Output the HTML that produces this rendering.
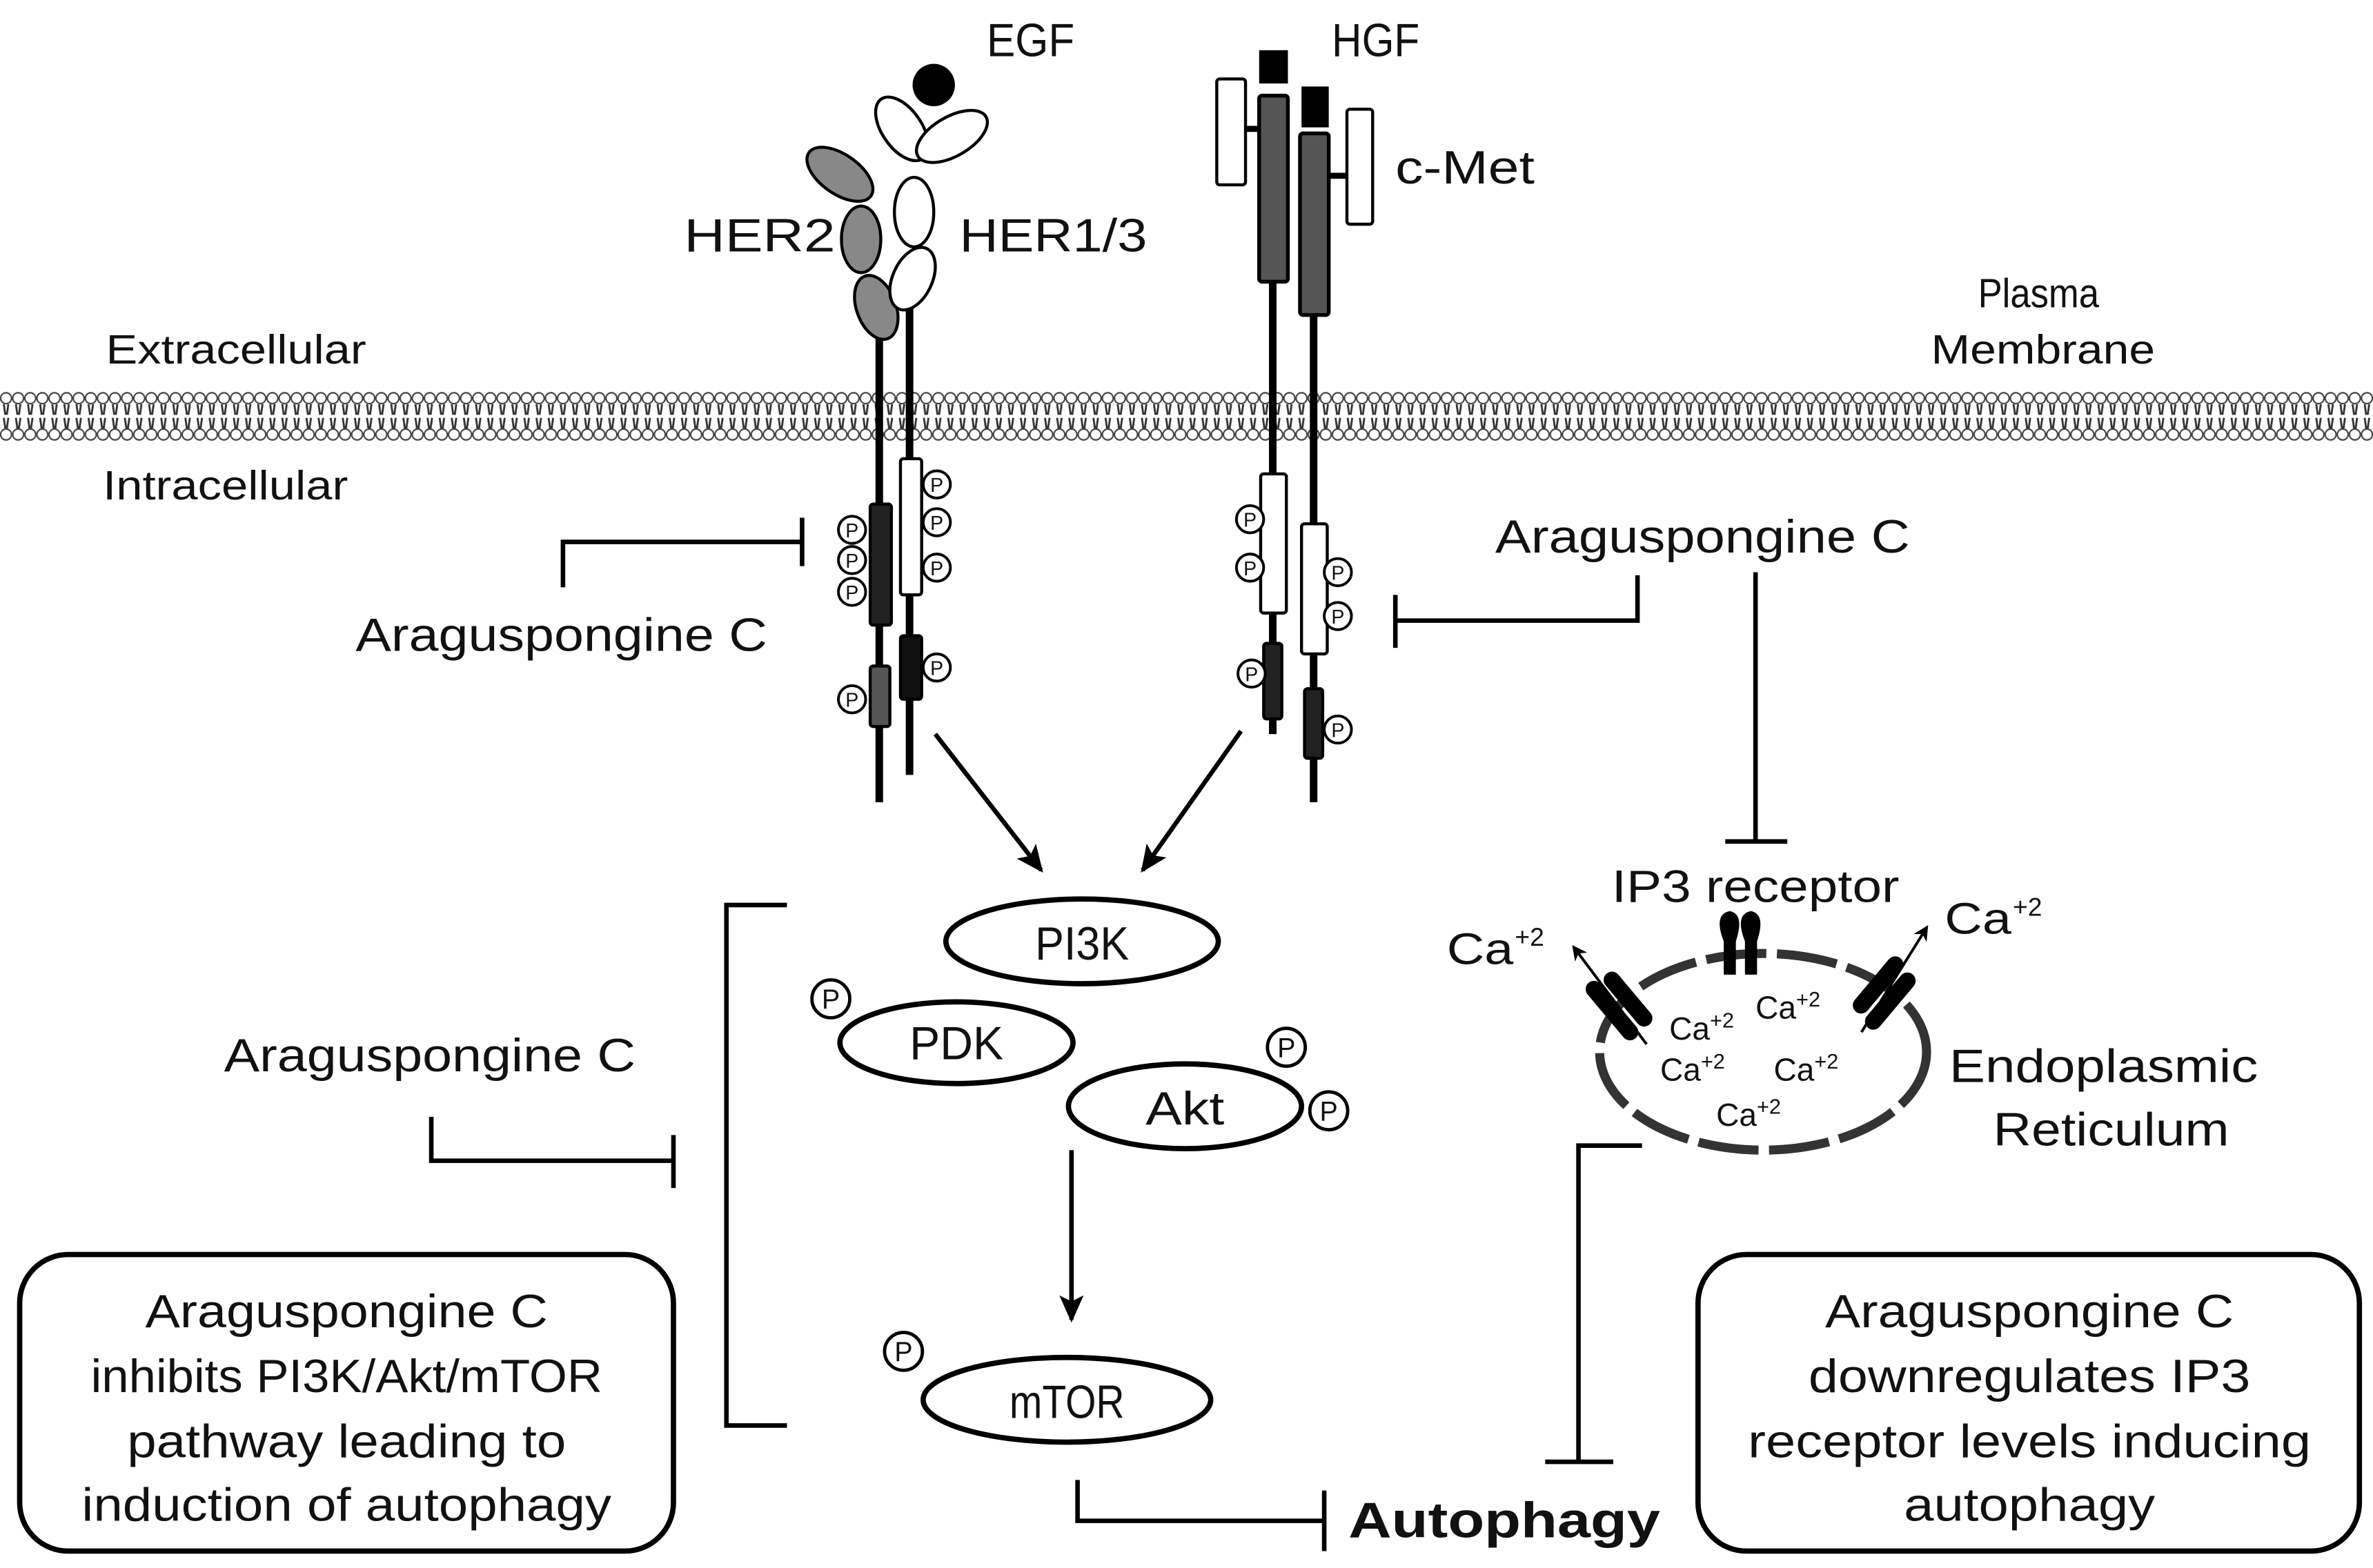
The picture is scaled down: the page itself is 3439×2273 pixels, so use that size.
<!DOCTYPE html>
<html><head><meta charset="utf-8"><style>
html,body{margin:0;padding:0;background:#fff;}
svg{display:block;}
text{font-family:"Liberation Sans",Arial,sans-serif;fill:#111;}
</style></head><body>
<svg width="3439" height="2273" viewBox="0 0 1568 1036" xmlns="http://www.w3.org/2000/svg">
<defs>
<marker id="ar" markerWidth="10" markerHeight="10" refX="8" refY="5" orient="auto" markerUnits="userSpaceOnUse"><path d="M0,0 L10,5 L0,10 L3,5 Z" fill="#000"/></marker>
<marker id="ar2" markerWidth="18" markerHeight="16" refX="16" refY="8" orient="auto" markerUnits="userSpaceOnUse"><path d="M0,0 L18,8 L0,16 L4,8 Z" fill="#000"/></marker>
<g id="P"><circle r="9" fill="#fff" stroke="#000" stroke-width="1.8"/><text x="0" y="5" font-size="13" text-anchor="middle">P</text></g>
<g id="Pb"><circle r="12.5" fill="#fff" stroke="#000" stroke-width="2.2"/><text x="0" y="6.5" font-size="18" text-anchor="middle">P</text></g>
<pattern id="heads" x="0" y="0" width="8" height="34" patternUnits="userSpaceOnUse" patternTransform="translate(0,258)">
<circle cx="4" cy="5" r="3.6" fill="#fff" stroke="#444" stroke-width="1"/>
<circle cx="4" cy="29" r="3.6" fill="#fff" stroke="#444" stroke-width="1"/>
<path d="M2.5,9 L3.5,16 M5.5,9 L4.5,16 M2.5,18 L3.5,25 M5.5,18 L4.5,25" stroke="#333" stroke-width="1.3"/>
</pattern>
</defs>

<rect x="0" y="258" width="1568" height="34" fill="url(#heads)"/>

<!-- labels top -->
<text x="652" y="37" font-size="31" textLength="58" lengthAdjust="spacingAndGlyphs">EGF</text>
<text x="880" y="37" font-size="31" textLength="58" lengthAdjust="spacingAndGlyphs">HGF</text>
<text x="922" y="121" font-size="31" textLength="92" lengthAdjust="spacingAndGlyphs">c-Met</text>
<text x="452" y="166" font-size="31" textLength="100" lengthAdjust="spacingAndGlyphs">HER2</text>
<text x="634" y="166" font-size="31" textLength="124" lengthAdjust="spacingAndGlyphs">HER1/3</text>
<text x="70" y="240" font-size="27" textLength="172" lengthAdjust="spacingAndGlyphs">Extracellular</text>
<text x="68" y="330" font-size="27" textLength="162" lengthAdjust="spacingAndGlyphs">Intracellular</text>
<text x="1347" y="203" font-size="27" text-anchor="middle" textLength="80" lengthAdjust="spacingAndGlyphs">Plasma</text>
<text x="1350" y="240" font-size="27" text-anchor="middle" textLength="148" lengthAdjust="spacingAndGlyphs">Membrane</text>

<!-- HER2 -->
<line x1="581" y1="215" x2="581" y2="530" stroke="#000" stroke-width="5"/>
<g fill="#888" stroke="#000" stroke-width="2">
<ellipse cx="555" cy="115" rx="25" ry="13" transform="rotate(35 555 115)"/>
<ellipse cx="569" cy="158" rx="13" ry="22"/>
<ellipse cx="579" cy="203" rx="13" ry="22" transform="rotate(-20 579 203)"/>
</g>
<rect x="575" y="333" width="14" height="80" rx="2" fill="#222" stroke="#000" stroke-width="2"/>
<rect x="575" y="440" width="13" height="40" rx="2" fill="#555" stroke="#000" stroke-width="2"/>
<use href="#P" x="563" y="350"/><use href="#P" x="563" y="370"/><use href="#P" x="563" y="391"/><use href="#P" x="563" y="462"/>

<!-- HER1/3 -->
<line x1="601" y1="200" x2="601" y2="512" stroke="#000" stroke-width="5"/>
<g fill="#fff" stroke="#000" stroke-width="2">
<ellipse cx="596" cy="85" rx="24" ry="13" transform="rotate(55 596 85)"/>
<ellipse cx="629" cy="90" rx="26" ry="13" transform="rotate(-30 629 90)"/>
<ellipse cx="604" cy="140" rx="13" ry="23"/>
<ellipse cx="603" cy="184" rx="13" ry="22" transform="rotate(25 603 184)"/>
</g>
<circle cx="617" cy="56" r="14" fill="#000"/>
<rect x="595" y="303" width="14" height="90" rx="2" fill="#fff" stroke="#000" stroke-width="2"/>
<rect x="595" y="420" width="14" height="42" rx="2" fill="#111" stroke="#000" stroke-width="2"/>
<use href="#P" x="619" y="320"/><use href="#P" x="619" y="345"/><use href="#P" x="619" y="375"/><use href="#P" x="619" y="441"/>

<!-- c-Met left -->
<line x1="841" y1="180" x2="841" y2="485" stroke="#000" stroke-width="5"/>
<rect x="832" y="33" width="19" height="22" fill="#000"/>
<rect x="822" y="83" width="12" height="4" fill="#000"/>
<rect x="804" y="52" width="19" height="70" rx="2" fill="#fff" stroke="#000" stroke-width="2"/>
<rect x="832" y="63" width="19" height="123" rx="2" fill="#555" stroke="#000" stroke-width="2.5"/>
<rect x="833" y="313" width="17" height="92" rx="2" fill="#fff" stroke="#000" stroke-width="2"/>
<rect x="835" y="425" width="12" height="50" rx="2" fill="#222" stroke="#000" stroke-width="2"/>
<use href="#P" x="826" y="343"/><use href="#P" x="826" y="375"/><use href="#P" x="827" y="445"/>

<!-- c-Met right -->
<line x1="868" y1="200" x2="868" y2="530" stroke="#000" stroke-width="5"/>
<rect x="860" y="57" width="18" height="27" fill="#000"/>
<rect x="877" y="114" width="14" height="4" fill="#000"/>
<rect x="890" y="72" width="17" height="76" rx="2" fill="#fff" stroke="#000" stroke-width="2"/>
<rect x="859" y="88" width="19" height="120" rx="2" fill="#555" stroke="#000" stroke-width="2.5"/>
<rect x="860" y="346" width="17" height="86" rx="2" fill="#fff" stroke="#000" stroke-width="2"/>
<rect x="862" y="455" width="12" height="46" rx="2" fill="#222" stroke="#000" stroke-width="2"/>
<use href="#P" x="884" y="378"/><use href="#P" x="884" y="407"/><use href="#P" x="884" y="482"/>

<!-- arrows to PI3K -->
<line x1="618" y1="485" x2="688" y2="575" stroke="#000" stroke-width="3" marker-end="url(#ar2)"/>
<line x1="820" y1="483" x2="755" y2="575" stroke="#000" stroke-width="3" marker-end="url(#ar2)"/>

<!-- left receptor inhibitor -->
<path d="M372,388 L372,358 L530,358" fill="none" stroke="#000" stroke-width="3"/>
<line x1="530" y1="342" x2="530" y2="374" stroke="#000" stroke-width="3"/>
<text x="371" y="430" font-size="31" text-anchor="middle" textLength="272" lengthAdjust="spacingAndGlyphs">Araguspongine C</text>

<!-- right inhibitors -->
<text x="1125" y="365" font-size="31" text-anchor="middle" textLength="274" lengthAdjust="spacingAndGlyphs">Araguspongine C</text>
<path d="M1082,380 L1082,410 L922,410" fill="none" stroke="#000" stroke-width="3"/>
<line x1="922" y1="393" x2="922" y2="428" stroke="#000" stroke-width="3"/>
<line x1="1160" y1="378" x2="1160" y2="556" stroke="#000" stroke-width="3"/>
<line x1="1140" y1="556" x2="1181" y2="556" stroke="#000" stroke-width="3"/>

<!-- pathway -->
<ellipse cx="715" cy="622" rx="90" ry="28" fill="#fff" stroke="#000" stroke-width="3.5"/>
<text x="715" y="634" font-size="31" text-anchor="middle" textLength="62" lengthAdjust="spacingAndGlyphs">PI3K</text>
<ellipse cx="632" cy="689" rx="77" ry="27" fill="#fff" stroke="#000" stroke-width="3.5"/>
<text x="632" y="700" font-size="31" text-anchor="middle" textLength="62" lengthAdjust="spacingAndGlyphs">PDK</text>
<use href="#Pb" x="549" y="660"/>
<ellipse cx="783" cy="731" rx="77" ry="28" fill="#fff" stroke="#000" stroke-width="3.5"/>
<text x="783" y="743" font-size="31" text-anchor="middle" textLength="52" lengthAdjust="spacingAndGlyphs">Akt</text>
<use href="#Pb" x="850" y="692"/><use href="#Pb" x="878" y="734"/>
<line x1="708" y1="760" x2="708" y2="872" stroke="#000" stroke-width="3" marker-end="url(#ar2)"/>
<ellipse cx="705" cy="925" rx="95" ry="28" fill="#fff" stroke="#000" stroke-width="3.5"/>
<text x="705" y="937" font-size="31" text-anchor="middle" textLength="76" lengthAdjust="spacingAndGlyphs">mTOR</text>
<use href="#Pb" x="597" y="893"/>

<!-- bracket -->
<path d="M520,598 L480,598 L480,942 L520,942" fill="none" stroke="#000" stroke-width="3"/>
<text x="284" y="708" font-size="31" text-anchor="middle" textLength="272" lengthAdjust="spacingAndGlyphs">Araguspongine C</text>
<path d="M285,738 L285,767 L445,767" fill="none" stroke="#000" stroke-width="3"/>
<line x1="445" y1="750" x2="445" y2="785" stroke="#000" stroke-width="3"/>

<!-- autophagy -->
<path d="M712,978 L712,1005 L875,1005" fill="none" stroke="#000" stroke-width="3"/>
<line x1="875" y1="985" x2="875" y2="1025" stroke="#000" stroke-width="3"/>
<text x="994" y="1016" font-size="33" font-weight="bold" text-anchor="middle" textLength="206" lengthAdjust="spacingAndGlyphs">Autophagy</text>
<path d="M1085,757 L1043,757 L1043,966" fill="none" stroke="#000" stroke-width="3"/>
<line x1="1021" y1="966" x2="1066" y2="966" stroke="#000" stroke-width="3"/>

<!-- ER -->
<ellipse cx="1165" cy="695" rx="108" ry="65" fill="none" stroke="#333" stroke-width="6" stroke-dasharray="40 7"/>
<g fill="#000">
<path d="M1139,622 q-7,-18 4,-20 q10,2 4,20 l0,22 l-8,0 z"/>
<path d="M1153,622 q-7,-18 4,-20 q10,2 4,20 l0,22 l-8,0 z"/>
<g transform="rotate(-40 1070 665)"><rect x="1059" y="640" width="11" height="48" rx="5.5"/><rect x="1072" y="643" width="11" height="44" rx="5.5"/></g>
<g transform="rotate(40 1246 655)"><rect x="1234" y="632" width="11" height="46" rx="5.5"/><rect x="1247" y="635" width="11" height="46" rx="5.5"/></g>
</g>
<line x1="1088" y1="690" x2="1040" y2="626" stroke="#000" stroke-width="1.8" marker-end="url(#ar)"/>
<line x1="1230" y1="682" x2="1273" y2="613" stroke="#000" stroke-width="1.8" marker-end="url(#ar)"/>
<text x="1160" y="596" font-size="30" text-anchor="middle" textLength="190" lengthAdjust="spacingAndGlyphs">IP3 receptor</text>
<text x="956" y="637" font-size="29" textLength="44" lengthAdjust="spacingAndGlyphs">Ca</text>
<text x="1001" y="625" font-size="17">+2</text>
<text x="1285" y="617" font-size="29" textLength="44" lengthAdjust="spacingAndGlyphs">Ca</text>
<text x="1330" y="605" font-size="17">+2</text>
<g font-size="21">
<text x="1103" y="687">Ca<tspan font-size="14" dy="-8">+2</tspan></text>
<text x="1160" y="673">Ca<tspan font-size="14" dy="-8">+2</tspan></text>
<text x="1097" y="714">Ca<tspan font-size="14" dy="-8">+2</tspan></text>
<text x="1172" y="714">Ca<tspan font-size="14" dy="-8">+2</tspan></text>
<text x="1134" y="744">Ca<tspan font-size="14" dy="-8">+2</tspan></text>
</g>
<text x="1390" y="715" font-size="31" text-anchor="middle" textLength="204" lengthAdjust="spacingAndGlyphs">Endoplasmic</text>
<text x="1395" y="757" font-size="31" text-anchor="middle" textLength="156" lengthAdjust="spacingAndGlyphs">Reticulum</text>

<!-- boxes -->
<rect x="13" y="829" width="432" height="196" rx="32" fill="#fff" stroke="#000" stroke-width="3.5"/>
<g font-size="31" text-anchor="middle">
<text x="229" y="877" textLength="266" lengthAdjust="spacingAndGlyphs">Araguspongine C</text>
<text x="229" y="920" textLength="338" lengthAdjust="spacingAndGlyphs">inhibits PI3K/Akt/mTOR</text>
<text x="229" y="963" textLength="290" lengthAdjust="spacingAndGlyphs">pathway leading to</text>
<text x="229" y="1005" textLength="350" lengthAdjust="spacingAndGlyphs">induction of autophagy</text>
</g>
<rect x="1122" y="829" width="437" height="196" rx="32" fill="#fff" stroke="#000" stroke-width="3.5"/>
<g font-size="31" text-anchor="middle">
<text x="1341" y="877" textLength="270" lengthAdjust="spacingAndGlyphs">Araguspongine C</text>
<text x="1341" y="920" textLength="292" lengthAdjust="spacingAndGlyphs">downregulates IP3</text>
<text x="1341" y="963" textLength="372" lengthAdjust="spacingAndGlyphs">receptor levels inducing</text>
<text x="1341" y="1005" textLength="166" lengthAdjust="spacingAndGlyphs">autophagy</text>
</g>
</svg>
</body></html>
